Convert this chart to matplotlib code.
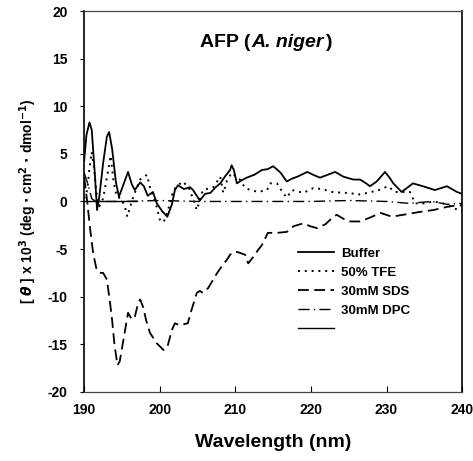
import matplotlib.pyplot as plt

# CD spectra of AFP (A. niger)
buffer_x = [190, 190.3, 190.7, 191.0, 191.4, 191.7, 192.0, 192.5, 193.0, 193.3, 193.7,
            194.2, 194.6, 195.2, 195.8, 196.3, 196.7, 197.4, 197.9, 198.4, 199.1, 199.6,
            200.3, 201.0, 201.6, 202.0, 202.4, 203.2, 204.0, 204.4, 205.3, 206.0, 206.7,
            207.4, 208.0, 208.7, 209.3, 209.5, 209.8, 210.2, 210.8, 211.5, 212.5, 213.5,
            214.3, 215.0, 215.6, 216.0, 216.8, 217.5, 218.2, 219.5, 220.3, 221.2, 222.2,
            223.2, 224.3, 225.6, 226.5, 227.3, 227.8, 228.7, 229.8, 230.4, 230.9, 232.0,
            233.5, 234.8, 236.4, 238.0, 239.3, 240]
buffer_y = [4.3, 7.0, 8.3, 7.5, 3.0, -0.9, 0.5, 4.0, 6.8, 7.3, 5.5,
            2.0, 0.5, 1.8, 3.1, 1.8, 1.2, 2.0, 1.6, 0.6, 1.0, -0.2,
            -1.0, -1.6, -0.3, 1.2, 1.7, 1.3, 1.5, 1.2, 0.1, 0.8, 0.9,
            1.5, 1.9, 2.7, 3.3, 3.8, 3.3, 1.9, 2.2, 2.5, 2.8, 3.3,
            3.4, 3.7, 3.3, 3.0, 2.1, 2.4, 2.6, 3.1, 2.8, 2.5, 2.8,
            3.1, 2.6, 2.3, 2.3, 1.9, 1.6, 2.1, 3.1, 2.5, 1.9, 1.0,
            1.9, 1.6, 1.2, 1.6, 1.0, 0.8]

tfe_x = [190, 190.4, 190.7, 191.0, 191.3, 191.6, 192.0, 192.5, 193.0, 193.5, 193.9,
         194.3, 194.9, 195.4, 195.7, 196.0, 196.5, 197.0, 197.4, 198.3, 198.7, 199.2,
         199.6, 200.0, 200.5, 201.0, 201.8, 203.0, 203.8, 204.4, 204.9, 205.7, 207.1,
         208.0, 208.4, 208.9, 209.5, 210.6, 211.3, 212.0, 213.0, 214.2, 214.6, 215.5,
         216.3, 216.8, 217.5, 219.0, 220.3, 221.5, 222.8, 224.3, 225.2, 226.1, 227.5,
         229.0, 230.2, 231.1, 233.1, 233.8, 235.1, 236.2, 237.5, 238.8, 240]
tfe_y = [0.3, 1.2, 3.5, 5.2, 3.5, 1.0, -0.5, 0.3, 2.5, 4.8, 2.0,
         0.5, 0.3, -0.6, -1.6, -0.8, 0.5, 1.5, 2.3, 2.8, 1.5, 0.4,
         -0.6, -1.9, -2.2, -1.2, 1.2, 2.1, 1.5, 0.3, -0.9, 1.2, 1.5,
         2.6, 0.9, 2.2, 3.0, 2.3, 1.4, 1.2, 1.0, 1.2, 1.9, 1.9,
         0.9, 0.4, 1.2, 0.9, 1.4, 1.3, 1.0, 0.9, 0.9, 0.7, 0.9,
         1.2, 1.6, 1.0, 1.0, -0.2, -0.2, 0.0, -0.2, -0.7, -1.0]

sds_x = [190, 190.4, 190.8, 191.2, 191.6, 192.0, 192.5, 193.0, 193.4, 193.7, 194.0,
         194.4, 194.7, 195.2, 195.8, 196.3, 196.7, 197.1, 197.4, 197.8, 198.2, 198.7,
         199.6, 200.5, 201.0, 201.6, 202.0, 202.6, 203.7, 204.2, 204.9, 205.3, 205.7,
         206.4, 207.0, 207.6, 208.3, 208.9, 209.3, 209.7, 210.2, 210.6, 211.3, 211.7,
         212.4, 213.0, 213.5, 214.3, 215.5, 216.8, 217.7, 219.0, 219.9, 220.8, 221.9,
         223.0, 223.4, 224.9, 226.5, 227.8, 229.2, 230.7, 232.2, 234.4, 236.2, 238.4, 240]
sds_y = [2.5, 0.0, -3.0, -5.5, -7.0, -7.5, -7.5, -8.2, -10.5, -12.5, -15.0,
         -17.2, -16.8, -14.5, -11.7, -12.4, -12.1, -10.8, -10.3, -11.1, -12.5, -13.8,
         -14.9, -15.6, -15.3, -13.5, -12.8, -13.0, -12.8, -11.4, -9.6, -9.4, -9.6,
         -9.1, -8.3, -7.5, -6.7, -6.1, -5.6, -5.3, -5.3, -5.4, -5.6, -6.5,
         -5.8, -5.1, -4.6, -3.3, -3.3, -3.2, -2.6, -2.3, -2.6, -2.8, -2.4,
         -1.6, -1.4, -2.1, -2.1, -1.7, -1.2, -1.6, -1.4, -1.1, -0.9, -0.5, -0.4]

dpc_x = [190, 190.5, 191.0, 191.5, 195, 200, 205, 210, 215, 220, 225, 230, 233, 236, 238, 240]
dpc_y = [3.0, 1.8, 0.3, 0.0, 0.0, 0.1, 0.0, 0.0, 0.0, 0.0, 0.1, 0.0, -0.2, 0.0, -0.3, -0.2]

base_x = [190, 197]
base_y = [0, 0]

plt.rcParams['font.family'] = ['Liberation Sans', 'DejaVu Sans']
plt.rcParams['font.weight'] = 'bold'
plt.rcParams['axes.unicode_minus'] = False

fig = plt.figure(figsize=(4.73, 4.61), dpi=100)
ax = fig.add_axes([0.178, 0.150, 0.799, 0.826])

ax.plot(buffer_x, buffer_y, color='black', lw=1.3, label='Buffer')
ax.plot(tfe_x, tfe_y, color='black', lw=1.4, linestyle=(0, (1, 2.5)), label='50% TFE')
ax.plot(sds_x, sds_y, color='black', lw=1.3, linestyle=(0, (6, 3)), label='30mM SDS')
ax.plot(dpc_x, dpc_y, color='black', lw=1.0, linestyle=(0, (8, 3, 1, 3)), label='30mM DPC')
ax.plot(base_x, base_y, color='black', lw=1.0, label=' ')

ax.set_xlim(190, 240)
ax.set_ylim(-20, 20)
ax.set_xticks(range(190, 241, 10))
ax.set_yticks(range(-20, 21, 5))
ax.tick_params(axis='x', direction='in', length=4, labelsize=10, pad=8)
ax.tick_params(axis='y', direction='out', length=3, labelsize=10, pad=9)

for side in ['left', 'right']:
    ax.spines[side].set_linewidth(1.2)
for side in ['top', 'bottom']:
    ax.spines[side].set_linewidth(0.9)
    ax.spines[side].set_color('#444444')

# title inside the axes, species name in italics
t1 = ax.text(212.0, 16.7, 'AFP (', fontsize=14, fontweight='bold', ha='right', va='center')
t2 = ax.annotate('A. niger', xy=(1, 0.5), xycoords=t1, xytext=(1, 0), textcoords='offset points',
                 fontsize=14, fontweight='bold', style='italic', ha='left', va='center')
ax.annotate(')', xy=(1, 0.5), xycoords=t2, xytext=(1, 0), textcoords='offset points',
            fontsize=14, fontweight='bold', ha='left', va='center')

ax.set_xlabel('Wavelength (nm)', fontsize=14, fontweight='bold', labelpad=12)
ax.set_ylabel(r'[ $\theta$ ] x 10$^3$ (deg $\cdot$ cm$^2$ $\cdot$ dmol$^{-1}$)',
              fontsize=10, fontweight='bold', labelpad=6)

ax.legend(loc='upper left', bbox_to_anchor=(0.553, 0.392), frameon=False, fontsize=9.5,
          handlelength=2.7, handletextpad=0.5, labelspacing=0.5, borderaxespad=0)

fig.savefig('out.png', dpi=100)
